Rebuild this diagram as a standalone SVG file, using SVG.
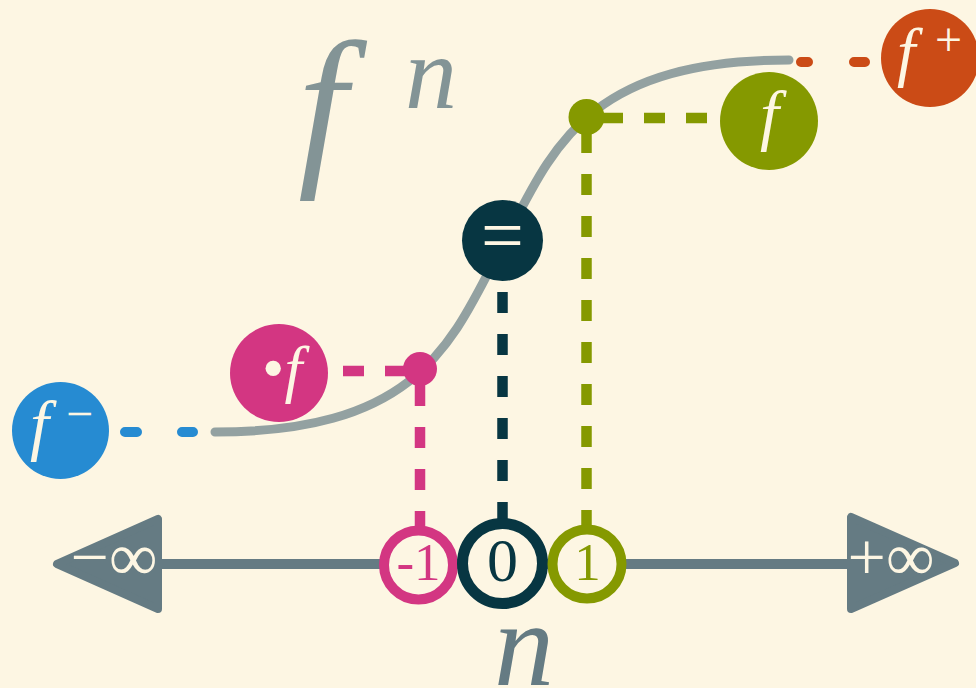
<svg xmlns="http://www.w3.org/2000/svg" width="976" height="688" viewBox="0 0 976 688">
<style>
.lbl{font-family:"Liberation Serif","Times New Roman",serif;fill:#fdf6e3}
.it{font-style:italic}
.dash{fill:none;stroke-dasharray:21 21;stroke-width:10.5}
.dot-cap{fill:none;stroke-width:10;stroke-linecap:round}
.ring{fill:#fdf6e3}
</style>
<rect width="976" height="688" fill="#fdf6e3"/>
<g id="title">
<text x="298" y="164" font-family="Liberation Serif,serif" font-style="italic" font-size="176" fill="#839496">f</text>
<text x="405" y="108" font-family="Liberation Serif,serif" font-style="italic" font-size="104" fill="#839496">n</text>
</g>
<g id="axis">
<line x1="160" y1="564" x2="850" y2="564" stroke="#657b83" stroke-width="10"/>
<polygon points="57,564 158,519 158,609" fill="#657b83" stroke="#657b83" stroke-width="8" stroke-linejoin="round"/>
<polygon points="851,517 851,609 955,563" fill="#657b83" stroke="#657b83" stroke-width="8" stroke-linejoin="round"/>
<text class="lbl" x="114" y="580" font-size="68" text-anchor="middle">−∞</text>
<text class="lbl" x="891" y="580" font-size="68" text-anchor="middle">+∞</text>
<text x="524" y="685" font-family="Liberation Serif,serif" font-style="italic" font-size="120" fill="#657b83" text-anchor="middle">n</text>
</g>
<g id="curve">
<path d="M215,432 C420,432 452,342 502,246 C552,150 584,60 789,60" fill="none" stroke="#93a1a1" stroke-width="9" stroke-linecap="round"/>
</g>
<g id="connectors">
<path class="dot-cap" stroke="#268bd2" d="M125,432 H137 M182,432 H193"/>
<path class="dot-cap" stroke="#cb4b16" d="M801,62 H808 M854,62 H865"/>
<path class="dash" stroke="#d33682" d="M343,371 H420"/>
<path class="dash" stroke="#d33682" d="M420,385 V565"/>
<path class="dash" stroke="#073642" stroke-width="11" d="M502.5,250 V563"/>
<path class="dash" stroke="#859900" d="M586.5,132 V564"/>
<path class="dash" stroke="#859900" d="M602,118 H720"/>
</g>
<g id="node-fminus">
<circle cx="60.5" cy="430.5" r="48.5" fill="#268bd2"/>
<text class="lbl"><tspan class="it" x="30" y="448" font-size="68">f</tspan><tspan x="66" y="430" font-size="48">−</tspan></text>
</g>
<g id="node-bullet-f">
<circle cx="279" cy="373" r="49" fill="#d33682"/>
<text class="lbl" x="262" y="390" font-size="64">•<tspan class="it">f</tspan></text>
</g>
<g id="node-fplus">
<circle cx="930" cy="58" r="49" fill="#cb4b16"/>
<text class="lbl"><tspan class="it" x="897" y="74" font-size="66">f</tspan><tspan x="935" y="56" font-size="48">+</tspan></text>
</g>
<g id="node-f">
<circle cx="769" cy="121" r="49" fill="#859900"/>
<text class="lbl it" x="760" y="138" font-size="68">f</text>
</g>
<g id="node-eq">
<circle cx="502.5" cy="240.5" r="40.5" fill="#073642"/>
<text class="lbl" x="502.5" y="261" font-size="76" text-anchor="middle">=</text>
</g>
<g id="dot-magenta"><circle cx="420" cy="369" r="17" fill="#d33682"/></g>
<g id="dot-green"><circle cx="586.5" cy="117" r="18" fill="#859900"/></g>
<g id="node-m1">
<circle class="ring" cx="418.5" cy="565" r="34.5" stroke="#d33682" stroke-width="10"/>
<text class="lbl" x="418.5" y="580" font-size="53" text-anchor="middle" style="fill:#d33682">-1</text>
</g>
<g id="node-0">
<circle class="ring" cx="502.5" cy="563.5" r="40" stroke="#073642" stroke-width="11"/>
<text class="lbl" x="502.5" y="581" font-size="62" text-anchor="middle" style="fill:#073642">0</text>
</g>
<g id="node-1">
<circle class="ring" cx="587" cy="564" r="34.5" stroke="#859900" stroke-width="10"/>
<text class="lbl" x="587.5" y="580" font-size="53" text-anchor="middle" style="fill:#859900">1</text>
</g>
</svg>
